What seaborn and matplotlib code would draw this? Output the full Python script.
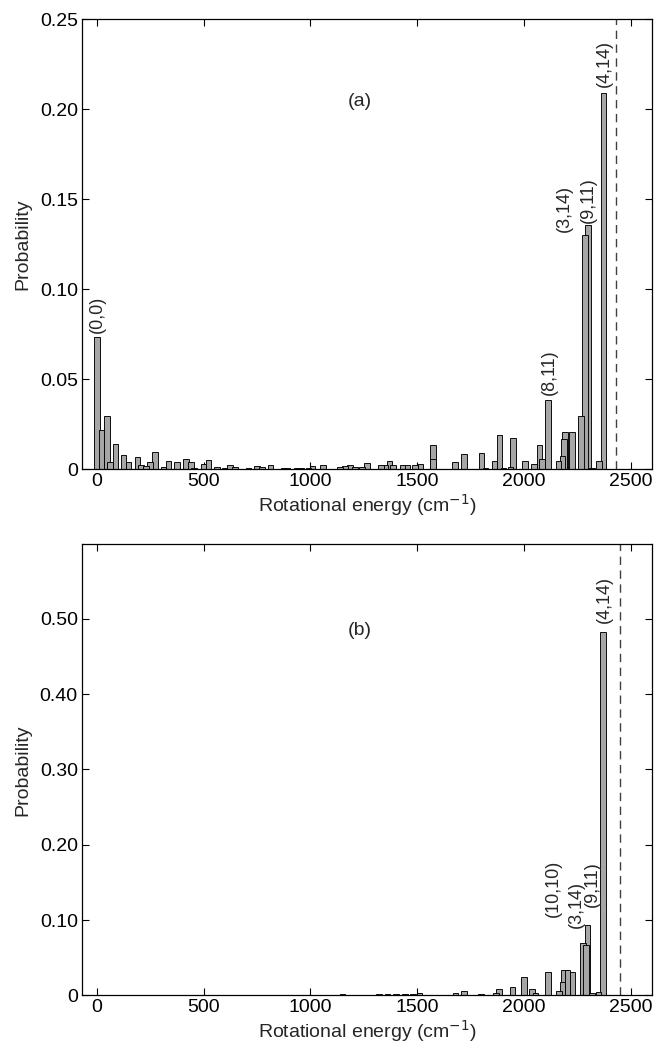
import matplotlib
matplotlib.use("Agg")
import matplotlib.pyplot as plt
import seaborn as sns
import numpy as np

sns.set_style("ticks")
plt.rcParams['font.family'] = ['Liberation Sans', 'DejaVu Sans']

# ---- Panel (a) data ----
energy_a = [0, 22, 47, 61, 86, 125, 147, 189, 206, 229, 248, 273, 312, 336, 376, 418, 440, 455,
            500, 522, 562, 598, 623, 646, 709, 749, 772, 812, 874, 890, 935, 955, 990, 1009, 1058,
            1138, 1163, 1185, 1208, 1242, 1265, 1330, 1350, 1370, 1388, 1431, 1453, 1490, 1515,
            1573, 1575, 1610, 1630, 1676, 1720, 1801, 1820, 1862, 1885, 1905, 1938, 1948, 2004,
            2047, 2073, 2086, 2113, 2161, 2180, 2188, 2192, 2225, 2267, 2286, 2300, 2318, 2351, 2372]
prob_a = [0.0735, 0.0217, 0.0294, 0.0040, 0.0140, 0.0077, 0.0039, 0.0066, 0.0025, 0.0020, 0.0043,
          0.0096, 0.0010, 0.0045, 0.0043, 0.0057, 0.0039, 0.0008, 0.0028, 0.0050, 0.0015, 0.0006,
          0.0026, 0.0015, 0.0006, 0.0020, 0.0015, 0.0022, 0.0009, 0.0007, 0.0009, 0.0008, 0.0007,
          0.0019, 0.0022, 0.0015, 0.0019, 0.0022, 0.0011, 0.0011, 0.0033, 0.0022, 0.0022, 0.0044,
          0.0022, 0.0022, 0.0022, 0.0026, 0.0030, 0.0133, 0.0057, 0.0004, 0.0004, 0.0043, 0.0085,
          0.0089, 0.0007, 0.0048, 0.0189, 0.0006, 0.0015, 0.0174, 0.0048, 0.0030, 0.0135, 0.0059,
          0.0385, 0.0048, 0.0074, 0.0167, 0.0207, 0.0207, 0.0296, 0.1300, 0.1357, 0.0006, 0.0048,
          0.2090]
labels_a = ["(0,0)", "(8,11)", "(3,14)", "(9,11)", "(4,14)"]
label_x_a = [1, 2121, 2191, 2303, 2378]
label_y_a = [0.0757, 0.0413, 0.132, 0.137, 0.2124]
limit_a = 2430

# ---- Panel (b) data ----
energy_b = [29, 119, 261, 369, 521, 560, 619, 762, 887, 941, 1012, 1048, 1150, 1250, 1320, 1360,
            1400, 1444, 1480, 1510, 1565, 1600, 1680, 1720, 1798, 1870, 1884, 1920, 1946, 2001,
            2039, 2055, 2112, 2164, 2180, 2189, 2204, 2227, 2277, 2290, 2298, 2320, 2350, 2371]
prob_b = [0.0005, 0.0005, 0.0005, 0.0005, 0.0005, 0.0004, 0.0005, 0.0004, 0.0005, 0.0005, 0.0005,
          0.0005, 0.0013, 0.0010, 0.0018, 0.0013, 0.0013, 0.0020, 0.0020, 0.0030, 0.0010, 0.0008,
          0.0036, 0.0058, 0.0022, 0.0030, 0.0080, 0.0010, 0.0115, 0.0248, 0.0090, 0.0036, 0.0314,
          0.0058, 0.0180, 0.0340, 0.0337, 0.0314, 0.0700, 0.0670, 0.0935, 0.0036, 0.0050, 0.4830]
labels_b = ["(10,10)", "(3,14)", "(9,11)", "(4,14)"]
label_x_b = [2140, 2247, 2322, 2378]
label_y_b = [0.104, 0.0895, 0.117, 0.495]
limit_b = 2450

xticks = [0, 500, 1000, 1500, 2000, 2500]
yticks_a = [0, 0.05, 0.10, 0.15, 0.20, 0.25]
yticklabels_a = ["0", "0.05", "0.10", "0.15", "0.20", "0.25"]
yticks_b = [0, 0.10, 0.20, 0.30, 0.40, 0.50]
yticklabels_b = ["0", "0.10", "0.20", "0.30", "0.40", "0.50"]

W, H = 655, 1048
fig = plt.figure(figsize=(W / 100, H / 100), dpi=100)
ax_a = fig.add_axes([82 / W, 1 - 469.3 / H, (652 - 82) / W, (469.3 - 19) / H])
ax_b = fig.add_axes([82 / W, 1 - 995.3 / H, (652 - 82) / W, (995.3 - 544.3) / H])

TICK_FS = 14
ANN_FS = 13


def draw(ax, energy, prob, labels, lx, ly, limit, ylim, yticks, yticklabels, tag, tag_y):
    e = np.array(energy)
    p = np.array(prob)
    order = np.argsort(-p)
    ax.bar(e[order], p[order], width=26, color="#a6a6a6", edgecolor="black",
           linewidth=0.65, align="center", zorder=2)
    ax.axvline(limit, color="0.25", linestyle=(0, (6, 4)), linewidth=1.0, zorder=1)
    for t, x, y in zip(labels, lx, ly):
        ax.text(x, y, t, rotation=90, ha="center", va="bottom", fontsize=ANN_FS)
    ax.text(1231, tag_y, tag, ha="center", va="center", fontsize=ANN_FS + 1)
    ax.set_xlim(-70, 2600)
    ax.set_ylim(*ylim)
    ax.set_xticks(xticks)
    ax.set_xticklabels([str(v) for v in xticks])
    ax.set_yticks(yticks)
    ax.set_yticklabels(yticklabels)
    ax.tick_params(direction="in", length=5, width=0.8, top=True, right=True,
                   labelsize=TICK_FS, pad=3, colors="black")
    for s in ax.spines.values():
        s.set_visible(True)
        s.set_linewidth(0.9)
        s.set_color("black")
    ax.set_xlabel("Rotational energy (cm$^{-1}$)", fontsize=TICK_FS, labelpad=1)
    ax.set_ylabel("Probability", fontsize=TICK_FS, labelpad=6)


draw(ax_a, energy_a, prob_a, labels_a, label_x_a, label_y_a, limit_a, (0, 0.25),
     yticks_a, yticklabels_a, "(a)", 0.204)
draw(ax_b, energy_b, prob_b, labels_b, label_x_b, label_y_b, limit_b, (0, 0.599),
     yticks_b, yticklabels_b, "(b)", 0.485)

fig.savefig("out.png", dpi=100)
